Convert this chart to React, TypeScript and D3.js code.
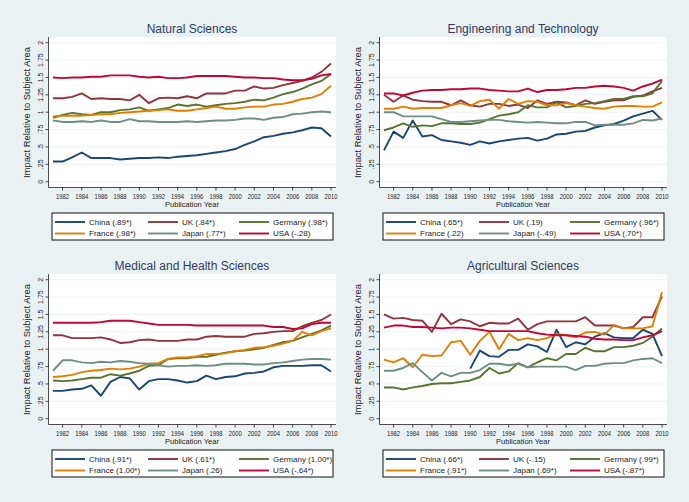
import React from "react";
import * as d3 from "d3";

const years = d3.range(1981, 2011);
const tickYears = d3.range(1982, 2011, 2);
const yTicks = [0, 0.25, 0.5, 0.75, 1, 1.25, 1.5, 1.75, 2];
const yTickLabels = ["0", ".25", ".5", ".75", "1", "1.25", "1.5", "1.75", "2"];
const countries = ["China", "UK", "Germany", "France", "Japan", "USA"];
const colors = ["#1a476f", "#90353b", "#55752f", "#e37e00", "#6e8e84", "#c10534"];

// Natural Sciences
const natChina = [0.29, 0.29, 0.35, 0.42, 0.34, 0.34, 0.34, 0.32, 0.33, 0.34, 0.34, 0.35, 0.34, 0.36, 0.37, 0.38, 0.4, 0.42, 0.44, 0.47, 0.53, 0.58, 0.64, 0.66, 0.69, 0.71, 0.74, 0.78, 0.77, 0.65];
const natUK = [1.2, 1.2, 1.22, 1.27, 1.19, 1.2, 1.19, 1.19, 1.17, 1.25, 1.13, 1.2, 1.21, 1.2, 1.23, 1.2, 1.27, 1.27, 1.27, 1.31, 1.31, 1.37, 1.34, 1.35, 1.39, 1.42, 1.45, 1.5, 1.58, 1.7];
const natGermany = [0.92, 0.96, 0.99, 0.97, 0.96, 1.0, 1.0, 1.03, 1.04, 1.07, 1.02, 1.04, 1.06, 1.11, 1.09, 1.11, 1.08, 1.1, 1.12, 1.13, 1.15, 1.18, 1.17, 1.21, 1.26, 1.29, 1.34, 1.4, 1.45, 1.55];
const natFrance = [0.94, 0.95, 0.95, 0.95, 0.96, 0.97, 0.97, 0.99, 1.0, 1.01, 1.02, 1.03, 1.04, 1.02, 1.02, 1.04, 1.06, 1.08, 1.05, 1.05, 1.07, 1.08, 1.08, 1.11, 1.12, 1.15, 1.19, 1.21, 1.26, 1.38];
const natJapan = [0.88, 0.86, 0.86, 0.87, 0.86, 0.88, 0.86, 0.86, 0.9, 0.87, 0.87, 0.86, 0.86, 0.86, 0.87, 0.86, 0.87, 0.88, 0.88, 0.89, 0.91, 0.91, 0.89, 0.92, 0.93, 0.97, 0.98, 1.0, 1.01, 1.0];
const natUSA = [1.5, 1.49, 1.5, 1.5, 1.51, 1.51, 1.53, 1.53, 1.53, 1.51, 1.5, 1.51, 1.49, 1.49, 1.5, 1.52, 1.52, 1.52, 1.52, 1.51, 1.5, 1.5, 1.49, 1.49, 1.47, 1.46, 1.46, 1.48, 1.53, 1.55];
const natLabels = ["China (.89*)", "UK (.84*)", "Germany (.98*)", "France (.98*)", "Japan (.77*)", "USA (-.28)"];

// Engineering and Technology
const engChina = [0.45, 0.72, 0.63, 0.88, 0.65, 0.67, 0.6, 0.58, 0.56, 0.53, 0.58, 0.55, 0.58, 0.6, 0.62, 0.63, 0.59, 0.62, 0.68, 0.69, 0.72, 0.73, 0.78, 0.81, 0.83, 0.88, 0.94, 0.98, 1.02, 0.89];
const engUK = [1.25, 1.15, 1.24, 1.18, 1.16, 1.15, 1.15, 1.1, 1.17, 1.1, 1.08, 1.12, 1.12, 1.09, 1.11, 1.06, 1.17, 1.12, 1.15, 1.14, 1.1, 1.17, 1.12, 1.15, 1.17, 1.17, 1.22, 1.24, 1.3, 1.35];
const engGermany = [0.74, 0.78, 0.84, 0.79, 0.81, 0.8, 0.84, 0.84, 0.83, 0.83, 0.85, 0.9, 0.95, 0.97, 1.0, 1.1, 1.07, 1.07, 1.14, 1.07, 1.09, 1.12, 1.13, 1.16, 1.19, 1.19, 1.23, 1.23, 1.27, 1.45];
const engFrance = [1.05, 1.05, 1.08, 1.05, 1.06, 1.06, 1.06, 1.1, 1.13, 1.09, 1.16, 1.18, 1.05, 1.19, 1.12, 1.16, 1.15, 1.1, 1.1, 1.13, 1.1, 1.08, 1.06, 1.05, 1.08, 1.09, 1.09, 1.08, 1.08, 1.14];
const engJapan = [1.0, 1.0, 0.94, 0.94, 0.94, 0.94, 0.9, 0.86, 0.86, 0.87, 0.88, 0.89, 0.89, 0.87, 0.86, 0.85, 0.86, 0.85, 0.84, 0.84, 0.86, 0.86, 0.81, 0.82, 0.82, 0.82, 0.84, 0.89, 0.88, 0.91];
const engUSA = [1.27, 1.27, 1.24, 1.28, 1.31, 1.32, 1.32, 1.33, 1.33, 1.34, 1.34, 1.32, 1.31, 1.3, 1.3, 1.34, 1.29, 1.32, 1.32, 1.33, 1.35, 1.35, 1.37, 1.38, 1.37, 1.35, 1.31, 1.37, 1.41, 1.47];
const engLabels = ["China (.65*)", "UK (.19)", "Germany (.96*)", "France (.22)", "Japan (-.49)", "USA (.70*)"];

// Medical and Health Sciences
const medChina = [0.4, 0.4, 0.42, 0.43, 0.48, 0.33, 0.53, 0.6, 0.58, 0.42, 0.54, 0.57, 0.57, 0.55, 0.52, 0.54, 0.62, 0.57, 0.6, 0.61, 0.65, 0.66, 0.68, 0.74, 0.76, 0.76, 0.76, 0.77, 0.77, 0.68];
const medUK = [1.2, 1.2, 1.16, 1.16, 1.16, 1.17, 1.14, 1.09, 1.1, 1.13, 1.14, 1.12, 1.12, 1.12, 1.14, 1.14, 1.18, 1.19, 1.18, 1.18, 1.18, 1.22, 1.23, 1.25, 1.26, 1.26, 1.33, 1.38, 1.42, 1.5];
const medGermany = [0.55, 0.54, 0.55, 0.57, 0.59, 0.59, 0.64, 0.62, 0.65, 0.69, 0.76, 0.77, 0.86, 0.87, 0.87, 0.89, 0.89, 0.92, 0.95, 0.97, 0.98, 1.0, 1.02, 1.06, 1.1, 1.12, 1.17, 1.22, 1.27, 1.34];
const medFrance = [0.6, 0.61, 0.63, 0.67, 0.69, 0.7, 0.72, 0.71, 0.72, 0.75, 0.79, 0.8, 0.86, 0.88, 0.88, 0.9, 0.93, 0.93, 0.94, 0.97, 0.99, 1.02, 1.03, 1.05, 1.08, 1.12, 1.25, 1.2, 1.26, 1.3];
const medJapan = [0.69, 0.84, 0.84, 0.81, 0.8, 0.82, 0.81, 0.83, 0.82, 0.8, 0.79, 0.77, 0.75, 0.76, 0.76, 0.77, 0.76, 0.77, 0.79, 0.79, 0.79, 0.78, 0.78, 0.8, 0.81, 0.83, 0.85, 0.86, 0.86, 0.85];
const medUSA = [1.38, 1.38, 1.38, 1.38, 1.38, 1.39, 1.41, 1.41, 1.41, 1.39, 1.37, 1.35, 1.35, 1.35, 1.35, 1.34, 1.34, 1.34, 1.34, 1.34, 1.34, 1.34, 1.34, 1.32, 1.32, 1.29, 1.3, 1.36, 1.38, 1.38];
const medLabels = ["China (.91*)", "UK (.61*)", "Germany (1.00*)", "France (1.00*)", "Japan (.26)", "USA (-.64*)"];

// Agricultural Sciences
const agrChina = [null, null, null, null, null, null, null, null, null, 0.72, 0.98, 0.9, 0.89, 0.99, 0.99, 1.07, 1.04, 0.96, 1.28, 1.03, 1.1, 1.07, 1.18, 1.23, 1.17, 1.16, 1.16, 1.28, 1.22, 0.9];
const agrUK = [1.5, 1.44, 1.45, 1.42, 1.41, 1.25, 1.51, 1.36, 1.43, 1.4, 1.33, 1.38, 1.37, 1.37, 1.44, 1.28, 1.36, 1.4, 1.4, 1.4, 1.4, 1.46, 1.34, 1.34, 1.34, 1.3, 1.32, 1.46, 1.46, 1.76];
const agrGermany = [0.45, 0.45, 0.42, 0.45, 0.47, 0.5, 0.51, 0.51, 0.53, 0.55, 0.6, 0.73, 0.65, 0.68, 0.8, 0.74, 0.81, 0.87, 0.84, 0.93, 0.93, 1.02, 0.97, 0.97, 1.03, 1.03, 1.05, 1.09, 1.18, 1.3];
const agrFrance = [0.85, 0.81, 0.87, 0.74, 0.92, 0.9, 0.91, 1.1, 1.12, 0.92, 1.12, 1.25, 1.0, 1.22, 1.13, 1.16, 1.13, 1.16, 1.22, 1.2, 1.17, 1.24, 1.25, 1.21, 1.35, 1.3, 1.3, 1.3, 1.33, 1.82];
const agrJapan = [0.69, 0.69, 0.73, 0.8, 0.67, 0.55, 0.66, 0.61, 0.66, 0.66, 0.7, 0.79, 0.79, 0.77, 0.79, 0.74, 0.75, 0.75, 0.75, 0.75, 0.7, 0.76, 0.76, 0.79, 0.8, 0.8, 0.84, 0.86, 0.87, 0.8];
const agrUSA = [1.31, 1.34, 1.34, 1.32, 1.32, 1.31, 1.3, 1.31, 1.31, 1.3, 1.28, 1.26, 1.26, 1.26, 1.26, 1.26, 1.23, 1.21, 1.2, 1.2, 1.19, 1.18, 1.15, 1.14, 1.14, 1.13, 1.13, 1.17, 1.2, 1.26];
const agrLabels = ["China (.66*)", "UK (-.15)", "Germany (.99*)", "France (.91*)", "Japan (.69*)", "USA (-.87*)"];

const panels = [
  { title: "Natural Sciences", series: [natChina, natUK, natGermany, natFrance, natJapan, natUSA], labels: natLabels, dx: 0, dy: 0 },
  { title: "Engineering and Technology", series: [engChina, engUK, engGermany, engFrance, engJapan, engUSA], labels: engLabels, dx: 331, dy: 0 },
  { title: "Medical and Health Sciences", series: [medChina, medUK, medGermany, medFrance, medJapan, medUSA], labels: medLabels, dx: 0, dy: 237 },
  { title: "Agricultural Sciences", series: [agrChina, agrUK, agrGermany, agrFrance, agrJapan, agrUSA], labels: agrLabels, dx: 331, dy: 237 },
];

const FONT = "'Liberation Sans', Arial, sans-serif";

function Panel({ p }: { p: any }) {
  const x = d3.scaleLinear().domain([1981, 2010]).range([53, 331]);
  const y = d3.scaleLinear().domain([0, 2]).range([181.7, 42.7]);
  const line = d3
    .line<any>()
    .defined((d) => d[1] !== null)
    .x((d) => x(d[0]))
    .y((d) => y(d[1]));
  const legendCols = [0, 93, 184];
  return (
    <g transform={`translate(${p.dx},${p.dy})`}>
      <text x={192} y={33} textAnchor="middle" fontSize={12} fill="#2f3b63" fontFamily={FONT}>
        {p.title}
      </text>
      <rect x={49} y={37} width={287} height={150} fill="#ffffff" />
      {yTicks.map((t) => (
        <line key={"g" + t} x1={49} x2={336} y1={y(t)} y2={y(t)} stroke="#eaf0f3" strokeWidth={0.8} />
      ))}
      {p.series.map((s: any[], i: number) => (
        <path
          key={i}
          d={line(years.map((yr, j) => [yr, s[j]])) || ""}
          fill="none"
          stroke={colors[i]}
          strokeWidth={1.9}
          strokeLinejoin="round"
        />
      ))}
      <line x1={48.5} x2={48.5} y1={37} y2={187.5} stroke="#222" strokeWidth={0.8} />
      {yTicks.map((t, i) => (
        <g key={"yt" + t}>
          <line x1={45.5} x2={48.5} y1={y(t)} y2={y(t)} stroke="#222" strokeWidth={0.8} />
          <text
            transform={`translate(42.8,${y(t)}) rotate(-90)`}
            textAnchor="middle"
            fontSize={7}
            fill="#222"
            fontFamily={FONT}
          >
            {yTickLabels[i]}
          </text>
        </g>
      ))}
      <text
        transform={`translate(29.5,112.5) rotate(-90)`}
        textAnchor="middle"
        fontSize={9}
        fill="#222"
        fontFamily={FONT}
        textLength={131}
        lengthAdjust="spacingAndGlyphs"
      >
        Impact Relative to Subject Area
      </text>
      <line x1={48.5} x2={336} y1={187.5} y2={187.5} stroke="#222" strokeWidth={0.8} />
      {tickYears.map((t) => (
        <g key={"xt" + t}>
          <line x1={x(t)} x2={x(t)} y1={187.5} y2={190.5} stroke="#222" strokeWidth={0.8} />
          <text
            x={x(t)}
            y={199.3}
            textAnchor="middle"
            fontSize={7.5}
            fill="#222"
            fontFamily={FONT}
            textLength={13}
            lengthAdjust="spacingAndGlyphs"
          >
            {t}
          </text>
        </g>
      ))}
      <text x={192} y={206.8} textAnchor="middle" fontSize={7.5} fill="#222" fontFamily={FONT}>
        Publication Year
      </text>
      <rect x={52} y={213} width={281} height={27} fill="#ffffff" stroke="#111" strokeWidth={1} />
      {countries.map((c, i) => {
        const col = i % 3;
        const row = Math.floor(i / 3);
        const lx = 52 + legendCols[col];
        const ly = 222 + row * 11.5;
        return (
          <g key={"lg" + c}>
            <line x1={lx + 3} x2={lx + 33} y1={ly} y2={ly} stroke={colors[i]} strokeWidth={1.9} />
            <text x={lx + 37} y={ly + 2.8} fontSize={8} fill="#222" fontFamily={FONT}>
              {p.labels[i]}
            </text>
          </g>
        );
      })}
    </g>
  );
}

export default function App() {
  return (
    <svg
      width={689}
      height={502}
      style={{ position: "absolute", left: 0, top: 0, display: "block" }}
    >
      <rect x={0} y={0} width={689} height={502} fill="#eaf1f3" />
      {panels.map((p) => (
        <Panel key={p.title} p={p} />
      ))}
    </svg>
  );
}
